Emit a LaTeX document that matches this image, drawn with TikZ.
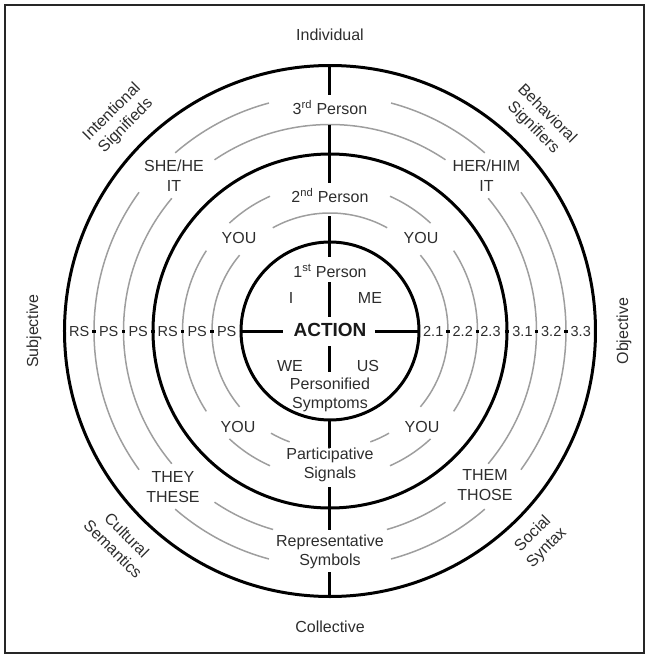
\documentclass[tikz,border=0pt]{standalone}
\usepackage{fontspec}
\setmainfont{Liberation Sans}
\definecolor{arcgray}{RGB}{158,158,158}
\definecolor{txtgray}{RGB}{45,45,45}
\begin{document}
\begin{tikzpicture}[x=1pt,y=1pt,
  thickline/.style={line width=3pt, black},
  grayarc/.style={line width=1.5pt, draw=arcgray},
  lbl/.style={text=txtgray, font=\fontsize{16}{19.5}\selectfont, align=center, inner sep=0pt},
  baselbl/.style={lbl, anchor=base},
  axl/.style={text=txtgray, font=\fontsize{14.5}{17}\selectfont, inner sep=0pt, anchor=base},
  dotmark/.style={fill=black},
]
\useasboundingbox (-330,-326) rectangle (319,331);
% frame
\draw[line width=1.3pt, black!85] (-325,326) rectangle (314,-322);

% thick circles
\foreach \r in {89,177,265.5} \draw[thickline] (0,0) circle[radius=\r pt];

% gray arcs (outer band)
\foreach \r/\a/\b in {236/144/216, 236/229/255, 236/285/311, 236/324/396, 236/49/75, 236/105/131,
  206.5/140/220, 206.5/236/254, 206.5/286/304, 206.5/320/400, 206.5/56/124,
  147.5/147/213, 147.5/227/246, 147.5/294/313, 147.5/327/393, 147.5/47/66, 147.5/114/133,
  118/140/220, 118/240/250, 118/290/300, 118/320/400, 118/61/119}
  \draw[grayarc] (\a:\r pt) arc[start angle=\a, end angle=\b, radius=\r pt];

% vertical axis segments
\draw[thickline] (0,265.5) -- (0,236);
\draw[thickline] (0,206.5) -- (0,148);
\draw[thickline] (0,115) -- (0,74);
\draw[thickline] (0,49) -- (0,14);
\draw[thickline] (0,-15) -- (0,-41);
\draw[thickline] (0,-89) -- (0,-117);
\draw[thickline] (0,-156) -- (0,-199);
\draw[thickline] (0,-241) -- (0,-265.5);
% horizontal axis segments
\draw[thickline] (-89,0) -- (-47,0);
\draw[thickline] (45,0) -- (89,0);

% dots on the horizontal axis
\foreach \r in {118,147.5,177,206.5,236,265.5} {
  \fill[dotmark] (-\r-1.75,-1.5) rectangle +(3.5,3);
  \fill[dotmark] (\r-1.75,-1.5) rectangle +(3.5,3);
}

% centre
\node[anchor=base, inner sep=0pt, text=black!90, font=\fontsize{19}{22}\selectfont\bfseries] (act) at (0,-5.8) {ACTION};

% axis labels
\node[axl] (l1) at (-250.75,-5.5) {RS};
\node[axl] (l2) at (-221.25,-5.5) {PS};
\node[axl] (l3) at (-191.75,-5.5) {PS};
\node[axl] (l4) at (-162.25,-5.5) {RS};
\node[axl] (l5) at (-132.75,-5.5) {PS};
\node[axl] (l6) at (-103.25,-5.5) {PS};
\node[axl] (r1) at (103.25,-5.5) {2.1};
\node[axl] (r2) at (132.75,-5.5) {2.2};
\node[axl] (r3) at (160.5,-5.5) {2.3};
\node[axl] (r4) at (192.5,-5.5) {3.1};
\node[axl] (r5) at (221.25,-5.5) {3.2};
\node[axl] (r6) at (250.75,-5.5) {3.3};

% single-line labels
\node[baselbl] (ind) at (0,290.3) {Individual};
\node[baselbl] (col) at (0,-301.7) {Collective};
\node[baselbl] (p3) at (0,216.3) {3\textsuperscript{rd} Person};
\node[baselbl] (p2) at (0,128.3) {2\textsuperscript{nd} Person};
\node[baselbl] (p1) at (0,53.3) {1\textsuperscript{st} Person};
\node[baselbl] (i) at (-39,27.3) {I};
\node[baselbl] (me) at (40,27.3) {ME};
\node[baselbl] (we) at (-40,-40.7) {WE};
\node[baselbl] (us) at (38,-40.7) {US};
\node[baselbl] (you1) at (-91,87.3) {YOU};
\node[baselbl] (you2) at (91,87.3) {YOU};
\node[baselbl] (you3) at (-92,-101.7) {YOU};
\node[baselbl] (you4) at (92,-101.7) {YOU};

% two-line labels
\node[lbl] (ps) at (0,-63.7) {Personified\\Symptoms};
\node[lbl] (psig) at (0,-133.7) {Participative\\Signals};
\node[lbl] (rsym) at (0,-220.7) {Representative\\Symbols};
\node[lbl] (she) at (-156,155.5) {SHE/HE\\IT};
\node[lbl] (her) at (156.5,155.5) {HER/HIM\\IT};
\node[lbl] (they) at (-157,-156) {THEY\\THESE};
\node[lbl] (them) at (155,-154) {THEM\\THOSE};

% outer side labels
\node[lbl, rotate=90] (subj) at (-296,0) {Subjective};
\node[lbl, rotate=90] (obj) at (294,0) {Objective};
\node[lbl, rotate=45] (intent) at (-211,212) {Intentional\\Signifieds};
\node[lbl, rotate=-45] (behav) at (210,210) {Behavioral\\Signifiers};
\node[lbl, rotate=-45] (cult) at (-210,-211) {Cultural\\Semantics};
\node[lbl, rotate=45] (soc) at (210,-210) {Social\\Syntax};
\end{tikzpicture}
\end{document}
